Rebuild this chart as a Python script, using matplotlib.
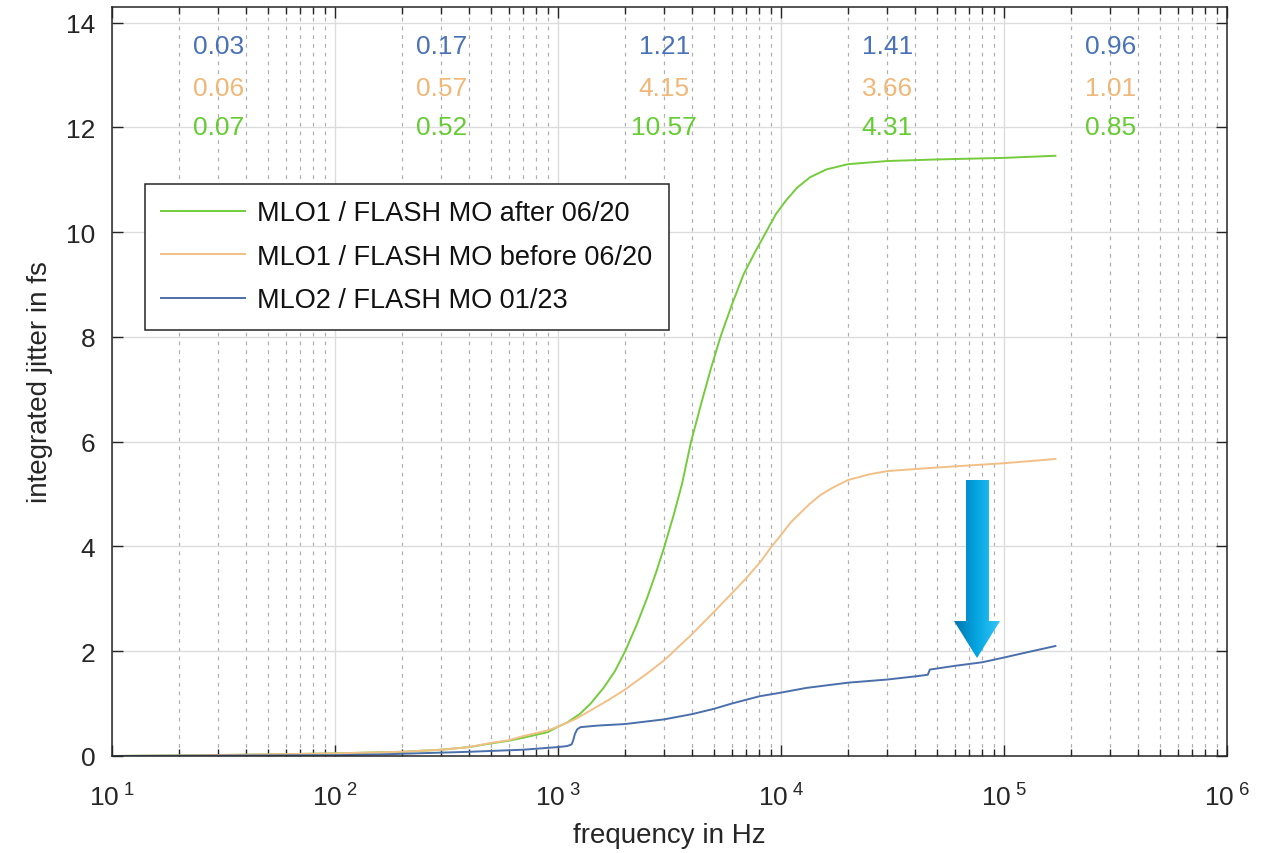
import numpy as np
import matplotlib
matplotlib.use('Agg')
import matplotlib.pyplot as plt
from matplotlib.patches import Polygon
from matplotlib.colors import LinearSegmentedColormap
from matplotlib.ticker import LogLocator, FuncFormatter, NullFormatter, MultipleLocator

plt.rcParams['font.family'] = ['Liberation Sans', 'DejaVu Sans']

# integrated jitter curves (frequency in Hz, jitter in fs)
f_after = [10, 20, 50, 100, 200, 300, 400, 500, 600, 700, 900, 1000, 1100, 1250, 1400,
           1600, 1800, 2000, 2250, 2500, 2750, 3000, 3300, 3600, 3950, 4400, 4850,
           5350, 6000, 6800, 7600, 8560, 9500, 10500, 11800, 13500, 16000, 20000,
           30000, 50000, 100000, 170000]
j_after = [0.0, 0.01, 0.03, 0.05, 0.08, 0.12, 0.17, 0.24, 0.29, 0.35, 0.455, 0.56, 0.64, 0.80, 1.0,
           1.3, 1.62, 2.0, 2.5, 3.0, 3.5, 4.0, 4.6, 5.2, 6.0, 6.75, 7.4,
           8.0, 8.6, 9.2, 9.6, 10.0, 10.35, 10.6, 10.85, 11.05, 11.2, 11.3,
           11.36, 11.39, 11.42, 11.46]

f_before = [10, 20, 50, 100, 200, 300, 400, 500, 600, 700, 900, 1000, 1190, 1400, 1700,
            2000, 2500, 3000, 3500, 4000, 5000, 6000, 7000, 8130, 9000, 10000, 11000,
            12200, 13500, 15000, 17000, 20000, 25000, 30000, 47000, 100000, 170000]
j_before = [0.0, 0.01, 0.03, 0.05, 0.08, 0.12, 0.17, 0.25, 0.30, 0.38, 0.49, 0.56, 0.70, 0.87, 1.08,
            1.27, 1.57, 1.83, 2.1, 2.33, 2.75, 3.1, 3.4, 3.72, 3.98, 4.22, 4.45,
            4.64, 4.82, 4.98, 5.12, 5.27, 5.38, 5.44, 5.50, 5.59, 5.67]

f_mlo2 = [10, 50, 100, 160, 400, 700, 1000, 1100, 1150, 1170, 1190, 1220, 1260, 1500, 2000,
          3000, 4000, 5000, 6000, 8000, 10000, 13000, 20000, 30000, 40000, 45500, 46500,
          60000, 80000, 100000, 130000, 170000]
j_mlo2 = [0.0, 0.01, 0.015, 0.03, 0.08, 0.12, 0.17, 0.19, 0.22, 0.30, 0.42, 0.51, 0.55, 0.58, 0.61,
          0.70, 0.80, 0.90, 1.0, 1.14, 1.21, 1.30, 1.40, 1.46, 1.52, 1.55, 1.65,
          1.72, 1.79, 1.88, 1.99, 2.10]

series_labels = ['MLO1 / FLASH MO after 06/20', 'MLO1 / FLASH MO before 06/20', 'MLO2 / FLASH MO 01/23']

# per-decade jitter numbers printed at the top
band_pos = [3e1, 3e2, 3e3, 3e4, 3e5]
band_mlo2 = ['0.03', '0.17', '1.21', '1.41', '0.96']
band_before = ['0.06', '0.57', '4.15', '3.66', '1.01']
band_after = ['0.07', '0.52', '10.57', '4.31', '0.85']
band_rows_y = [13.55, 12.75, 12.0]

c_after = '#74cc3c'
c_before = '#f2c087'
c_mlo2 = '#4b6fab'
t_after = '#66cc33'
t_before = '#f0b878'
t_mlo2 = '#4a72b8'
dark = '#262626'
fs = 19

fig = plt.figure(figsize=(12.66, 8.54), dpi=100)
ax = fig.add_axes([0.0885, 0.1136, 0.8807, 0.877])

l1, = ax.plot(f_after, j_after, color=c_after, lw=1.4)
l2, = ax.plot(f_before, j_before, color=c_before, lw=1.4)
l3, = ax.plot(f_mlo2, j_mlo2, color=c_mlo2, lw=1.4)

ax.set_xscale('log')
ax.set_xlim(10, 1e6)
ax.set_ylim(0, 14.3)
ax.yaxis.set_major_locator(MultipleLocator(2))
ax.xaxis.set_major_locator(LogLocator(base=10, numticks=10))
ax.xaxis.set_minor_locator(LogLocator(base=10, subs=np.arange(2, 10), numticks=20))
ax.xaxis.set_minor_formatter(NullFormatter())
ax.xaxis.set_major_formatter(FuncFormatter(lambda v, p: r'$\mathregular{10^{\;%d}}$' % round(np.log10(v))))

ax.set_axisbelow(True)
ax.grid(which='major', color='#dcdcdc', lw=1.0, ls='-')
ax.grid(which='minor', axis='x', color='#b0b0b0', lw=0.9, ls=(0, (3, 4)))

ax.tick_params(which='both', direction='in', top=True, right=True, colors=dark, labelsize=fs)
ax.tick_params(which='major', length=8, width=1)
ax.tick_params(which='minor', length=5, width=1)
ax.tick_params(axis='x', pad=20)
ax.tick_params(axis='y', pad=12)
for s in ax.spines.values():
    s.set_color(dark)
    s.set_linewidth(1.1)

ax.set_xlabel('frequency in Hz', fontsize=fs + 1, color=dark, labelpad=8)
ax.set_ylabel('integrated jitter in fs', fontsize=fs + 1, color=dark, labelpad=9)

for row, col, yv in zip([band_mlo2, band_before, band_after], [t_mlo2, t_before, t_after], band_rows_y):
    for xp, txt in zip(band_pos, row):
        ax.text(xp, yv, txt, color=col, fontsize=fs, ha='center', va='center')

leg = ax.legend([l1, l2, l3], series_labels, loc='upper left', bbox_to_anchor=(0.0296, 0.7637),
                borderaxespad=0, fontsize=fs + 0.5, fancybox=False, framealpha=1, edgecolor=dark,
                handlelength=3.1, handletextpad=0.45, labelspacing=0.65, borderpad=0.6)
leg.get_frame().set_linewidth(1.1)
for t in leg.get_texts():
    t.set_color('#111111')

# gradient arrow pointing at the MLO2 curve (axes fraction coordinates)
arrow_x = [0.7659, 0.7865, 0.7865, 0.7964, 0.7758, 0.7552, 0.7659]
arrow_y = [0.3685, 0.3685, 0.1802, 0.1802, 0.1308, 0.1802, 0.1802]
poly = Polygon(np.column_stack([arrow_x, arrow_y]), closed=True, transform=ax.transAxes,
               facecolor='none', edgecolor='none')
ax.add_patch(poly)
cmap = LinearSegmentedColormap.from_list('arr', ['#0074ae', '#05a6e2', '#33c6f6'])
img = ax.imshow(np.linspace(0, 1, 256).reshape(1, -1), cmap=cmap, aspect='auto',
                extent=[min(arrow_x), max(arrow_x), min(arrow_y), max(arrow_y)],
                transform=ax.transAxes, zorder=5)
img.set_clip_path(poly)

ax.set_xlim(10, 1e6)
ax.set_ylim(0, 14.3)

fig.savefig('out.png', dpi=100)
